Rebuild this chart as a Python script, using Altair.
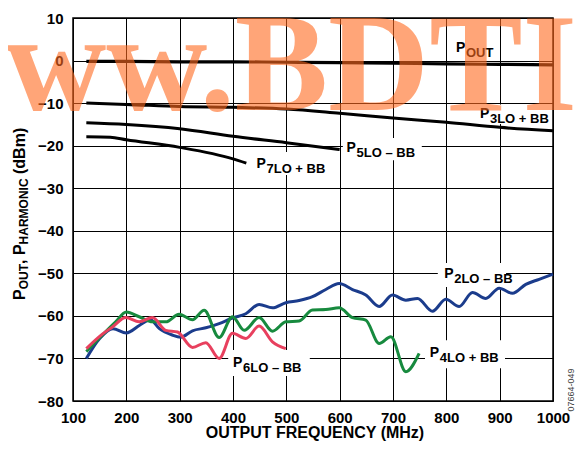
import altair as alt
import pandas as pd

# ---------------- data ----------------
freq_pout = [125, 200, 300, 400, 500, 600, 700, 800, 900, 1000]
pout = [-0.2, -0.2, -0.3, -0.3, -0.4, -0.5, -0.6, -0.8, -0.9, -1.0]

freq_p3 = [125, 200, 300, 400, 500, 600, 700, 800, 900, 1000]
p3 = [-10.0, -10.3, -10.8, -11.0, -11.4, -12.4, -13.5, -14.5, -15.7, -16.5]

freq_p5 = [125, 200, 300, 400, 500, 600]
p5 = [-14.6, -15.0, -16.0, -17.8, -19.3, -20.9]

freq_p7 = [125, 170, 200, 300, 400, 425]
p7 = [-17.9, -18.0, -18.6, -20.4, -23.1, -24.1]

freq_p2 = [125, 150, 175, 200, 225, 245, 262, 286, 302, 324, 349, 374, 399, 424,
           449, 474, 499, 524, 549, 574, 599, 624, 649, 674, 699, 724, 746, 774,
           799, 824, 849, 874, 899, 924, 949, 974, 1000]
p2 = [-70.0, -65.3, -63.0, -64.0, -62.2, -60.9, -63.0, -64.5, -65.0, -63.5, -62.8,
      -61.8, -60.5, -59.5, -57.3, -58.1, -56.9, -56.4, -55.5, -53.8, -52.4, -53.8,
      -55.1, -57.8, -55.1, -56.3, -55.9, -58.9, -56.1, -57.8, -54.5, -55.9, -53.5,
      -54.7, -52.6, -51.4, -50.2]

freq_p4 = [125, 155, 180, 200, 224, 249, 274, 299, 324, 346, 374, 399, 421, 449,
           474, 499, 524, 549, 574, 599, 624, 649, 674, 696, 724, 749]
p4 = [-68.4, -64.5, -61.4, -59.1, -60.2, -61.4, -61.4, -59.6, -60.9, -58.7, -65.1,
      -60.2, -63.4, -60.4, -63.6, -61.4, -61.2, -58.6, -58.5, -58.1, -60.4, -61.0,
      -66.5, -64.9, -73.1, -68.8]

freq_p6 = [125, 155, 174, 199, 224, 249, 274, 296, 324, 349, 374, 399, 424, 449, 474, 499]
p6 = [-67.7, -64.3, -62.6, -60.4, -61.4, -60.4, -63.4, -63.8, -67.4, -66.3, -70.0,
      -64.1, -65.3, -62.4, -66.1, -67.7]

series_names = ["POUT", "P3", "P5", "P7", "P2", "P4", "P6"]
series_colors = ["#000000", "#000000", "#000000", "#000000", "#1B3C8C", "#178A3E", "#E8405E"]
series_widths = [3.2, 3, 3, 3, 3, 3, 3]

# labels: main "P" + subscript
label_x = [818, 863, 613, 444, 796, 769, 400]
label_y = [2.1, -13.5, -21.4, -25.3, -51.1, -69.6, -71.9]
label_sub = ["OUT", "3LO + BB", "5LO – BB", "7LO + BB", "2LO – BB", "4LO + BB", "6LO – BB"]

# white boxes behind labels (they interrupt the grid)
box_x1 = [858, 606, 437, 784, 760, 391]
box_x2 = [996, 754, 588, 912, 910, 544]
box_y1 = [-10.3, -18.2, -21.5, -47.6, -65.7, -68.0]
box_y2 = [-14.9, -23.4, -26.9, -53.2, -72.3, -74.1]

x_ticks = list(range(100, 1001, 100))
y_ticks = list(range(-80, 11, 10))

# ---------------- build tables ----------------
rows = []
for name, xs, ys in [("POUT", freq_pout, pout), ("P3", freq_p3, p3), ("P5", freq_p5, p5),
                     ("P7", freq_p7, p7), ("P2", freq_p2, p2), ("P4", freq_p4, p4),
                     ("P6", freq_p6, p6)]:
    for i, (a, b) in enumerate(zip(xs, ys)):
        rows.append({"series": name, "freq": a, "dbm": b, "i": i})
df = pd.DataFrame(rows)

labels = pd.DataFrame({"x": label_x, "y": label_y, "sub": label_sub, "p": ["P"] * len(label_x)})
boxes = pd.DataFrame({"x1": box_x1, "x2": box_x2, "y1": box_y1, "y2": box_y2})

xscale = alt.Scale(domain=[100, 1000], nice=False, zero=False)
yscale = alt.Scale(domain=[-80, 10], nice=False, zero=False)

FONT = "Liberation Sans"

xaxis = alt.Axis(values=x_ticks, title="", format="d", grid=True, gridColor="#000000",
                 gridOpacity=1, gridWidth=1, domain=False, tickSize=0, labelPadding=9,
                 labelFont=FONT, labelFontSize=15, labelFontWeight="bold", labelColor="#000000",
                 labelFlush=False, labelOverlap=False)
yaxis = alt.Axis(values=y_ticks, title="", grid=True, gridColor="#000000", gridOpacity=1,
                 gridWidth=1, domain=False, tickSize=0, labelPadding=10, labelFont=FONT,
                 labelFontSize=15, labelFontWeight="bold", labelColor="#000000",
                 labelFlush=False, labelOverlap=False)

base_box = alt.Chart(boxes).mark_rect(color="white").encode(
    x=alt.X("x1:Q", scale=xscale, axis=xaxis),
    x2="x2:Q",
    y=alt.Y("y1:Q", scale=yscale, axis=yaxis),
    y2="y2:Q",
)

line_layers = []
for name, col, w in zip(series_names, series_colors, series_widths):
    line_layers.append(
        alt.Chart(df[df.series == name]).mark_line(
            color=col, strokeWidth=w, interpolate="monotone", strokeCap="butt"
        ).encode(
            x=alt.X("freq:Q", scale=xscale),
            y=alt.Y("dbm:Q", scale=yscale),
            order="i:Q",
        )
    )

lab_main = alt.Chart(labels).mark_text(
    align="left", baseline="alphabetic", font=FONT, fontSize=14, fontWeight="bold", color="#000000"
).encode(x=alt.X("x:Q", scale=xscale), y=alt.Y("y:Q", scale=yscale), text="p:N")

lab_sub = alt.Chart(labels).mark_text(
    align="left", baseline="alphabetic", font=FONT, fontSize=13, fontWeight="bold",
    color="#000000", dx=10, dy=5
).encode(x=alt.X("x:Q", scale=xscale), y=alt.Y("y:Q", scale=yscale), text="sub:N")

# x-axis title
xtitle = alt.Chart(pd.DataFrame({"t": ["OUTPUT FREQUENCY (MHz)"]})).mark_text(
    align="center", baseline="alphabetic", font=FONT, fontSize=16, fontWeight="bold",
    color="#000000"
).encode(x=alt.value(242), y=alt.value(420), text="t:N")

# y-axis title with subscripts, built from pieces (rotated, reading upward)
title_pieces = [("P", 16, 0, 0.667), ("OUT", 12, 3, 2.111), (",", 16, 0, 0.278),
                ("P", 16, 0, 0.667), ("HARMONIC", 12, 3, 5.499), ("(dBm)", 16, 0, 2.888)]
gaps = [0, 0, 0, 0.278 * 16, 0, 0.278 * 16]
ytitle_layers = []
ypos = 282.0
for (txt, fs, off, wem), gap in zip(title_pieces, gaps):
    ypos -= gap
    ytitle_layers.append(
        alt.Chart(pd.DataFrame({"t": [txt]})).mark_text(
            angle=270, align="left", baseline="alphabetic", font=FONT, fontSize=fs,
            fontWeight="bold", color="#000000"
        ).encode(x=alt.value(-48 + off), y=alt.value(ypos), text="t:N")
    )
    ypos -= wem * fs

watermark = alt.Chart(pd.DataFrame({"t": ["www.BDTI"]})).mark_text(
    align="right", baseline="alphabetic", font="Liberation Serif", fontSize=140,
    fontWeight="bold", color="#FF6A1F", opacity=0.6
).encode(x=alt.value(504), y=alt.value(92), text="t:N")

code = alt.Chart(pd.DataFrame({"t": ["07664-049"]})).mark_text(
    angle=270, align="center", baseline="alphabetic", font=FONT, fontSize=9,
    color="#444444"
).encode(x=alt.value(501), y=alt.value(372), text="t:N")

chart = alt.layer(
    base_box, *line_layers, lab_main, lab_sub, xtitle, *ytitle_layers, watermark, code
).properties(
    width=480, height=383,
    autosize=alt.AutoSizeParams(type="none"),
    padding={"left": 65, "top": 10, "right": 22, "bottom": 40},
).configure_view(
    stroke="#000000", strokeWidth=1.5
)

chart.save("out.html", embed_options={"renderer": "svg", "actions": False})
